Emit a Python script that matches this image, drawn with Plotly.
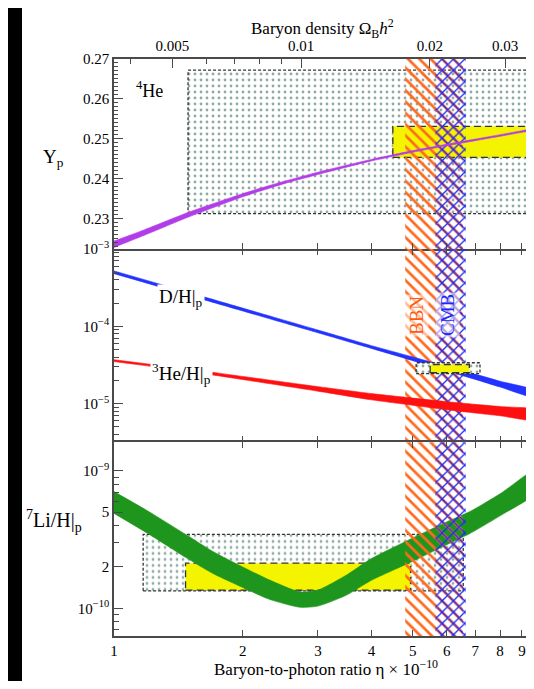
import plotly.graph_objects as go
from plotly.subplots import make_subplots

# ---------------- data ----------------
eta_he4 = [1, 1.15, 1.5, 2, 2.5, 3, 4, 5, 6, 7, 8, 9, 10]
yp_upper = [0.2243, 0.2267, 0.2316, 0.2362, 0.2393, 0.2416, 0.2448, 0.2470, 0.2486, 0.2499, 0.2510, 0.2520, 0.2529]
yp_lower = [0.2227, 0.2253, 0.2304, 0.2354, 0.2387, 0.2410, 0.2444, 0.2466, 0.2482, 0.2495, 0.2506, 0.2516, 0.2525]

eta_d = [1, 1.5, 2, 3, 4, 5, 6, 7, 8, 10]
dh_upper = [5.21e-4, 2.73e-4, 1.72e-4, 8.96e-5, 5.63e-5, 4.02e-5, 3.04e-5, 2.41e-5, 1.95e-5, 1.40e-5]
dh_lower = [4.80e-4, 2.51e-4, 1.58e-4, 8.25e-5, 5.18e-5, 3.60e-5, 2.65e-5, 2.06e-5, 1.64e-5, 1.14e-5]

eta_he3 = [1, 1.5, 2, 3, 4, 5, 6, 7, 8, 10]
he3_upper = [3.70e-5, 2.79e-5, 2.25e-5, 1.66e-5, 1.35e-5, 1.18e-5, 1.06e-5, 9.79e-6, 9.18e-6, 8.15e-6]
he3_lower = [3.50e-5, 2.61e-5, 2.05e-5, 1.45e-5, 1.12e-5, 9.53e-6, 8.34e-6, 7.56e-6, 6.97e-6, 6.01e-6]

eta_li = [1, 1.2, 1.47, 1.7, 2, 2.3, 2.72, 3, 3.5, 4, 5, 6, 6.8, 8, 10]
li_upper = [7.05e-10, 5.1e-10, 3.45e-10, 2.6e-10, 2.0e-10, 1.62e-10, 1.32e-10, 1.36e-10, 1.75e-10,
            2.3e-10, 3.25e-10, 4.25e-10, 5.05e-10, 6.8e-10, 10.8e-10]
li_lower = [4.9e-10, 3.5e-10, 2.35e-10, 1.8e-10, 1.42e-10, 1.17e-10, 1.02e-10, 1.04e-10, 1.25e-10,
            1.6e-10, 2.2e-10, 2.9e-10, 3.5e-10, 4.7e-10, 7.4e-10]

bbn_band = [4.8, 6.55]
cmb_band = [5.65, 6.65]

he4_wide_eta, he4_wide_y = [1.49, 12], [0.2312, 0.2672]
he4_obs_eta, he4_obs_y = [4.49, 12], [0.2453, 0.2531]
d_wide_eta, d_wide_y = [5.09, 7.18], [2.44e-5, 3.38e-5]
d_obs_eta, d_obs_y = [5.49, 6.78], [2.51e-5, 3.21e-5]
li_wide_eta, li_wide_y = [1.17, 6.56], [1.34e-10, 3.45e-10]
li_obs_eta, li_obs_y = [1.47, 4.94], [1.36e-10, 2.13e-10]

eta_ticks = [1, 2, 3, 4, 5, 6, 7, 8, 9]
omega_major = [0.005, 0.01, 0.02, 0.03]
omega_minor = [0.004, 0.006, 0.007, 0.008, 0.009]
ETA_PER_OMEGA = 273.9  # eta_10 = 273.9 * Omega_B h^2

yp_ticks = [0.23, 0.24, 0.25, 0.26, 0.27]
mid_ticks = [1e-5, 1e-4, 1e-3]
mid_ticktext = ["10<sup>−5</sup>", "10<sup>−4</sup>", "10<sup>−3</sup>"]
li_ticks = [1e-10, 2e-10, 5e-10, 1e-9]
li_ticktext = ["10<sup>−10</sup>", "2", "5", "10<sup>−9</sup>"]

# ---------------- figure ----------------
FONT = "Liberation Serif"
AX = "#4a4a4a"
fig = make_subplots(rows=3, cols=1, vertical_spacing=0)


def rect(xs, ys):
    return [xs[0], xs[1], xs[1], xs[0], xs[0]], [ys[0], ys[0], ys[1], ys[1], ys[0]]


def band(xs, up, lo):
    return list(xs) + list(xs)[::-1], list(up) + list(lo)[::-1]


def stipple_box(xs, ys, row, bg="white"):
    bx, by = rect(xs, ys)
    fig.add_trace(go.Scatter(x=bx, y=by, mode="lines", fill="toself", fillcolor=bg,
                             fillpattern=dict(shape=".", fgcolor="#1f5a4a", bgcolor=bg,
                                              size=6, solidity=0.17),
                             line=dict(color="#333333", width=1.3, dash="3px,2px"),
                             hoverinfo="skip", showlegend=False), row=row, col=1)


def yellow_box(xs, ys, row):
    bx, by = rect(xs, ys)
    fig.add_trace(go.Scatter(x=bx, y=by, mode="lines", fill="toself", fillcolor="#f4f400",
                             line=dict(color="#333333", width=1.3, dash="7px,4px"),
                             hoverinfo="skip", showlegend=False), row=row, col=1)


def hatch_bands(row, ylo, yhi):
    bx, by = rect(bbn_band, [ylo, yhi])
    fig.add_trace(go.Scatter(x=bx, y=by, mode="lines", fill="toself",
                             fillcolor="rgba(0,0,0,0)", line=dict(width=0),
                             fillpattern=dict(shape="\\", fgcolor="#ff6a1f", fgopacity=1,
                                              bgcolor="rgba(0,0,0,0)", size=8, solidity=0.34),
                             hoverinfo="skip", showlegend=False), row=row, col=1)
    bx, by = rect(cmb_band, [ylo, yhi])
    fig.add_trace(go.Scatter(x=bx, y=by, mode="lines", fill="toself",
                             fillcolor="rgba(0,0,0,0)", line=dict(width=0),
                             fillpattern=dict(shape="x", fgcolor="#1a2aff", fgopacity=1,
                                              bgcolor="rgba(0,0,0,0)", size=8, solidity=0.3),
                             hoverinfo="skip", showlegend=False), row=row, col=1)


def curve_band(xs, up, lo, color, row=None, **kw):
    bx, by = band(xs, up, lo)
    tr = go.Scatter(x=bx, y=by, mode="lines", fill="toself", fillcolor=color,
                    line=dict(color=color, width=0.6, shape="spline", smoothing=0.6),
                    hoverinfo="skip", showlegend=False, **kw)
    if row is None:
        fig.add_trace(tr)
    else:
        fig.add_trace(tr, row=row, col=1)


# panel 1 : 4He
stipple_box(he4_wide_eta, he4_wide_y, 1)
yellow_box(he4_obs_eta, he4_obs_y, 1)
hatch_bands(1, 0.2, 0.3)
curve_band(eta_he4, yp_upper, yp_lower, "#b23ce8", xaxis="x4", yaxis="y")

# panel 2 : D and 3He
hatch_bands(2, 1e-7, 1e-2)
curve_band(eta_d, dh_upper, dh_lower, "#2233ff", 2)
curve_band(eta_he3, he3_upper, he3_lower, "#ff1010", 2)
stipple_box(d_wide_eta, d_wide_y, 2)
yellow_box(d_obs_eta, d_obs_y, 2)

# panel 3 : 7Li
stipple_box(li_wide_eta, li_wide_y, 3)
yellow_box(li_obs_eta, li_obs_y, 3)
curve_band(eta_li, li_upper, li_lower, "#1e961e", 3)
hatch_bands(3, 1e-11, 1e-8)

# ---------------- axes ----------------
W, H = 518, 673
ML, MT, MB = 106, 51, 45
XR = [0, (W - ML) / 427.5]
dom1, dom2, dom3 = [0.6707, 1.0], [0.3354, 0.6707], [0.0, 0.3354]
tickfont = dict(family=FONT, size=15, color="black")

common_x = dict(type="log", range=XR, showgrid=False, zeroline=False,
                linecolor=AX, linewidth=1.5, ticks="inside", ticklen=6, tickwidth=1.2,
                tickcolor=AX, tickvals=eta_ticks, tickfont=tickfont)
fig.update_layout(
    xaxis=dict(common_x, showticklabels=False, showline=True, mirror=False),
    xaxis2=dict(common_x, showticklabels=False, showline=False, mirror="ticks"),
    xaxis3=dict(common_x, showticklabels=True, showline=True, mirror="ticks",
                ticktext=[str(v) for v in eta_ticks]),
    xaxis4=dict(type="log", range=XR, overlaying="x", anchor="y", side="top",
                showgrid=False, zeroline=False, showline=True, linecolor=AX, linewidth=1.5,
                ticks="inside", ticklen=9, tickwidth=1.2, tickcolor=AX,
                tickvals=[ETA_PER_OMEGA * o for o in omega_major],
                ticktext=[f"{o:g}" for o in omega_major], tickfont=tickfont,
                minor=dict(ticks="inside", ticklen=5, tickwidth=1.2, tickcolor=AX,
                           tickvals=[ETA_PER_OMEGA * o for o in omega_minor])),
)
common_y = dict(showgrid=False, zeroline=False, showline=True, linecolor=AX, linewidth=1.5,
                ticks="inside", ticklen=9, tickwidth=1.2, tickcolor=AX, tickfont=tickfont,
                mirror=False)
fig.update_layout(
    yaxis=dict(common_y, domain=dom1, range=[0.2223, 0.27], tickvals=yp_ticks,
               ticktext=[f"{v:.2f}" for v in yp_ticks],
               minor=dict(ticks="inside", ticklen=4, tickwidth=1, tickcolor=AX, dtick=0.001)),
    yaxis2=dict(common_y, domain=dom2, type="log", range=[-5.502, -3.0], tickvals=mid_ticks,
                ticktext=mid_ticktext,
                minor=dict(ticks="inside", ticklen=5, tickwidth=1, tickcolor=AX,
                           tickvals=[k * 10.0 ** e for e in (-6, -5, -4) for k in range(2, 10)])),
    yaxis3=dict(common_y, domain=dom3, type="log", range=[-10.2, -8.795], tickvals=li_ticks,
                ticktext=li_ticktext,
                minor=dict(ticks="inside", ticklen=5, tickwidth=1, tickcolor=AX,
                           tickvals=[k * 10.0 ** e for e in (-11, -10) for k in (3, 4, 6, 7, 8, 9)])),
)

# ---------------- text ----------------
PW = W - ML


def px(xpage):
    return (xpage - 8 - ML) / PW


def py(ypage):
    return (636 - ypage) / 577


def ann(text, x, y, size=16, color="black", xanchor="center", **kw):
    fig.add_annotation(text=text, x=x, y=y, xref="paper", yref="paper", showarrow=False,
                       xanchor=xanchor, yanchor="middle",
                       font=dict(family=FONT, size=size, color=color), **kw)


ann("Baryon density Ω<sub>B</sub><i>h</i><sup>2</sup>", px(322), py(28), size=17)
ann("Baryon-to-photon ratio η × 10<sup>−10</sup>", px(326), py(668), size=17)
ann("Y<sub>p</sub>", px(53), py(158), size=19)
ann("<sup>7</sup>Li/H|<sub>p</sub>", px(54), py(521), size=20)
ann("<sup>4</sup>He", px(134), py(89), size=18, xanchor="left")
ann("D/H|<sub>p</sub>", px(181), py(298), size=19, bgcolor="white")
ann("<sup>3</sup>He/H|<sub>p</sub>", px(181), py(373), size=19, bgcolor="white")
ann("BBN", px(416), py(316), size=19, color="#ff5a10", textangle=-90,
    bgcolor="rgba(255,255,255,0.55)")
ann("CMB", px(447), py(315), size=19, color="#1a2aff", textangle=-90,
    bgcolor="rgba(255,255,255,0.55)")

# black frame of the original picture (left side)
fig.add_shape(type="rect", xref="paper", yref="paper", x0=px(0), x1=px(22), y0=-0.2, y1=1.2,
              fillcolor="black", line_width=0, layer="above")

fig.update_layout(width=W, height=H, margin=dict(l=ML, r=0, t=MT, b=MB),
                  paper_bgcolor="white", plot_bgcolor="white", showlegend=False,
                  font=dict(family=FONT, color="black"))

fig.write_html("out.html")
